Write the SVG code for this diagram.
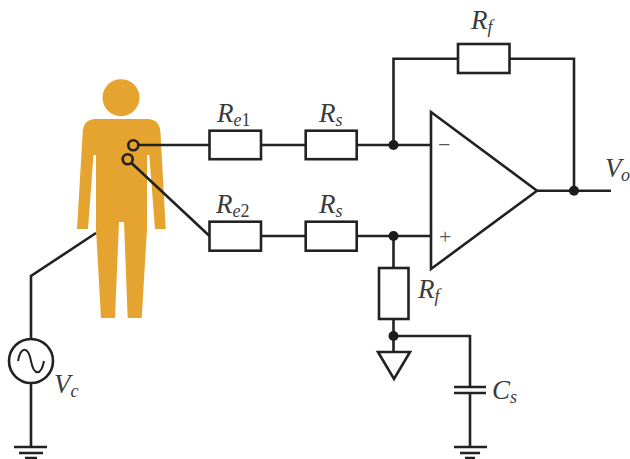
<svg xmlns="http://www.w3.org/2000/svg" width="630" height="459" viewBox="0 0 630 459">
<defs><style>
.w{fill:none;stroke:#222;stroke-width:2.6}
.c{fill:#fff;stroke:#222;stroke-width:2.6}
.d{fill:#1c1c1c}
.t{font-family:"Liberation Serif","DejaVu Serif",serif;font-style:italic;font-size:27px;fill:#3a3a3a}
.s{font-size:18px}
.n{font-style:normal}
.u{font-family:"Liberation Serif",serif;font-size:22px;fill:#555}
.p{fill:#e5a32f}
</style></defs>
<rect width="630" height="459" fill="#fff"/>
<g id="person">
<circle class="p" cx="121" cy="97.700" r="18.500"/>
<path class="p" d="M96 119H147Q160 119 160.500 133L165.700 229H155L149.300 155H147V229L141.700 318H127.700L124 222H119L115 318H101L96 229V155H93.500L88 229H77L82.700 133Q83 119 96 119Z"/>
</g>
<g id="connectors">
<path class="w" d="M138.300 145H209.500M261 145H305.700M356.700 145H431M131.500 163L209.500 236M261 236H305.700M356.700 236H431M393.500 145V58.700H458M509.500 58.700H574V190.700M537 190.700H611M393.500 236V268M393.500 319V352M393.500 336H470V386.700M470 393V447M31 339V276L96 233M31 383V447"/>
</g>
<g id="electrode-1"><circle cx="133.300" cy="145.300" r="5" fill="none" stroke="#222" stroke-width="2.600"/></g>
<g id="electrode-2"><circle cx="127.700" cy="159.300" r="5" fill="none" stroke="#222" stroke-width="2.600"/></g>
<g id="re1"><rect class="c" x="209.500" y="130.700" width="51.500" height="28.500"/><text class="t" x="217" y="122">R<tspan class="s" dy="4">e<tspan class="n">1</tspan></tspan></text></g>
<g id="rs1"><rect class="c" x="305.700" y="130.700" width="51" height="28.500"/><text class="t" x="319" y="122">R<tspan class="s" dy="4">s</tspan></text></g>
<g id="re2"><rect class="c" x="209.500" y="221.700" width="51.500" height="29"/><text class="t" x="216" y="213">R<tspan class="s" dy="4">e<tspan class="n">2</tspan></tspan></text></g>
<g id="rs2"><rect class="c" x="305.700" y="221.700" width="51" height="29"/><text class="t" x="319" y="213">R<tspan class="s" dy="4">s</tspan></text></g>
<g id="rf-top"><rect class="c" x="458" y="44" width="51.500" height="29"/><text class="t" x="471" y="29">R<tspan class="s" dy="4">f</tspan></text></g>
<g id="rf-bottom"><rect class="c" x="379" y="268" width="29.500" height="51"/><text class="t" x="418" y="298">R<tspan class="s" dy="4">f</tspan></text></g>
<g id="opamp"><path class="c" d="M431 112V269L537 190.700Z"/><text class="u" x="438" y="152">−</text><text class="u" x="439" y="244">+</text></g>
<g id="vo"><text class="t" x="605" y="177" textLength="25">V<tspan class="s" dy="4">o</tspan></text></g>
<g id="n1"><circle class="d" cx="393.500" cy="145" r="5"/></g>
<g id="n2"><circle class="d" cx="393.500" cy="236" r="5"/></g>
<g id="n3"><circle class="d" cx="574" cy="190.700" r="5"/></g>
<g id="n4"><circle class="d" cx="393.500" cy="336" r="5"/></g>
<g id="ref-ground"><path class="c" d="M378 352H410L394 379Z"/></g>
<g id="cs"><path class="w" d="M454 387H486M454 393H486"/><text class="t" x="492" y="399">C<tspan class="s" dy="4">s</tspan></text></g>
<g id="gnd-cs"><path class="w" d="M454 447H487M460 453H480M465 458H475"/></g>
<g id="source"><circle class="c" cx="31" cy="361" r="22"/><path class="w" d="M18 361C21 346 28 346 31 361S41 376 44 361" style="stroke-width:2"/><text class="t" x="54" y="393">V<tspan class="s" dy="4">c</tspan></text></g>
<g id="gnd-source"><path class="w" d="M14 447H47M19 453H43M25 458H37"/></g>
</svg>
